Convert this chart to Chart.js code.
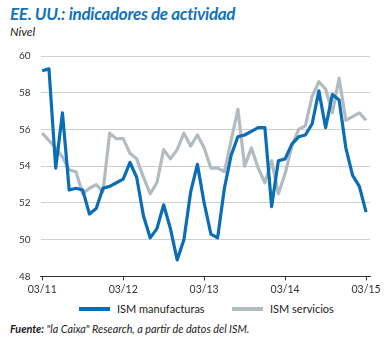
<!DOCTYPE html>
<html><head><meta charset="utf-8">
<script src="https://cdn.jsdelivr.net/npm/chart.js@4.4.1/dist/chart.umd.min.js"></script>
<style>
body{margin:0;background:#fff;width:390px;height:338px;overflow:hidden;position:relative;font-family:Lato,sans-serif}
#t{position:absolute;left:10px;top:3px;font:italic bold 17px Lato;color:#1273bb;letter-spacing:-0.3px;white-space:nowrap}
#s{position:absolute;left:10px;top:24px;font:italic 12px Lato;color:#222}
#f{position:absolute;left:10px;top:322px;font:italic 10.8px Lato;color:#222;white-space:nowrap}
#c{position:absolute;left:0;top:40px;width:390px;height:259px}
.lg{position:absolute;top:302px;height:14px;line-height:14px;font:11px Lato;color:#222;white-space:nowrap}
.lg i{position:absolute;top:5px;width:31px;height:4px}
</style></head>
<body>
<div id="t">EE. UU.: indicadores de actividad</div>
<div id="s">Nivel</div>
<div id="c"><canvas id="cv"></canvas></div>
<div id="lg0" class="lg" style="left:79px"><i style="left:0"></i><span style="position:absolute;left:38px"></span></div>
<div id="lg1" class="lg" style="left:232px"><i style="left:0"></i><span style="position:absolute;left:38px"></span></div>
<div id="f"><b>Fuente:</b> "la Caixa" Research, a partir de datos del ISM.</div>
<script>
const months = ["03/11","04/11","05/11","06/11","07/11","08/11","09/11","10/11","11/11","12/11","01/12","02/12",
"03/12","04/12","05/12","06/12","07/12","08/12","09/12","10/12","11/12","12/12","01/13","02/13",
"03/13","04/13","05/13","06/13","07/13","08/13","09/13","10/13","11/13","12/13","01/14","02/14",
"03/14","04/14","05/14","06/14","07/14","08/14","09/14","10/14","11/14","12/14","01/15","02/15","03/15"];
const tickMonths = ["03/11","03/12","03/13","03/14","03/15"];
const manufacturas = [59.2,59.3,53.9,56.9,52.7,52.8,52.7,51.4,51.7,52.8,52.9,53.1,
53.3,54.2,53.4,51.3,50.1,50.6,51.9,50.6,48.9,50.0,52.6,54.1,
52.0,50.3,50.1,52.8,54.6,55.6,55.7,55.9,56.1,56.1,51.8,54.3,
54.4,55.2,55.6,55.7,56.3,58.1,56.1,57.9,57.6,55.0,53.5,52.9,51.5];
const servicios = [55.8,55.4,55.0,54.5,53.8,53.7,52.5,52.8,53.0,52.6,55.8,55.5,
55.5,54.7,54.4,53.4,52.5,53.1,54.9,54.4,54.9,55.8,55.1,55.7,
55.0,53.9,53.9,53.7,55.4,57.1,54.0,55.0,53.9,53.1,54.3,52.5,
53.6,55.1,56.0,56.2,57.8,58.6,58.2,56.9,58.8,56.5,56.7,56.9,56.5];
const seriesNames = ["ISM manufacturas","ISM servicios"];
const COLORS = ["#0a6db5", "#b3bbbf"];

const toXY = arr => arr.map((v,i)=>({x:i,y:v}));
const tickIdx = tickMonths.map(m=>months.indexOf(m));

const chart = new Chart(document.getElementById('cv'), {
  type:'line',
  data:{datasets:[
    {label:seriesNames[0], data:toXY(manufacturas), borderColor:COLORS[0], backgroundColor:COLORS[0], borderWidth:3.2, pointRadius:0, tension:0, borderJoinStyle:'round'},
    {label:seriesNames[1], data:toXY(servicios), borderColor:COLORS[1], backgroundColor:COLORS[1], borderWidth:3.2, pointRadius:0, tension:0, borderJoinStyle:'round'}
  ]},
  options:{
    responsive:true, maintainAspectRatio:false, animation:false,
    layout:{padding:{left:9,right:20,top:8,bottom:0}},
    plugins:{tooltip:{enabled:false}, legend:{display:false}},
    scales:{
      x:{type:'linear', min:-0.24, max:48.58,
        afterBuildTicks:(ax)=>{ax.ticks=tickIdx.map(v=>({value:v}));},
        ticks:{callback:(v)=>months[v], color:'#333', font:{family:'Lato',size:10.5}, padding:3, maxRotation:0, autoSkip:false},
        grid:{drawOnChartArea:false, drawTicks:true, tickLength:4, color:'#333'},
        border:{display:true,color:'#333',width:1}
      },
      y:{min:48,max:60,
        ticks:{stepSize:2,color:'#333',font:{family:'Lato',size:10},padding:10},
        grid:{drawTicks:false,color:(c)=>c.tick && c.tick.value===48?'rgba(0,0,0,0)':'#cfcfcf',lineWidth:1},
        border:{display:false}
      }
    }
  }
});
chart.data.datasets.forEach((ds,i)=>{
  const el=document.getElementById('lg'+i);
  el.querySelector('i').style.background=ds.borderColor;
  el.querySelector('span').textContent=ds.label;
});
</script>
</body></html>
